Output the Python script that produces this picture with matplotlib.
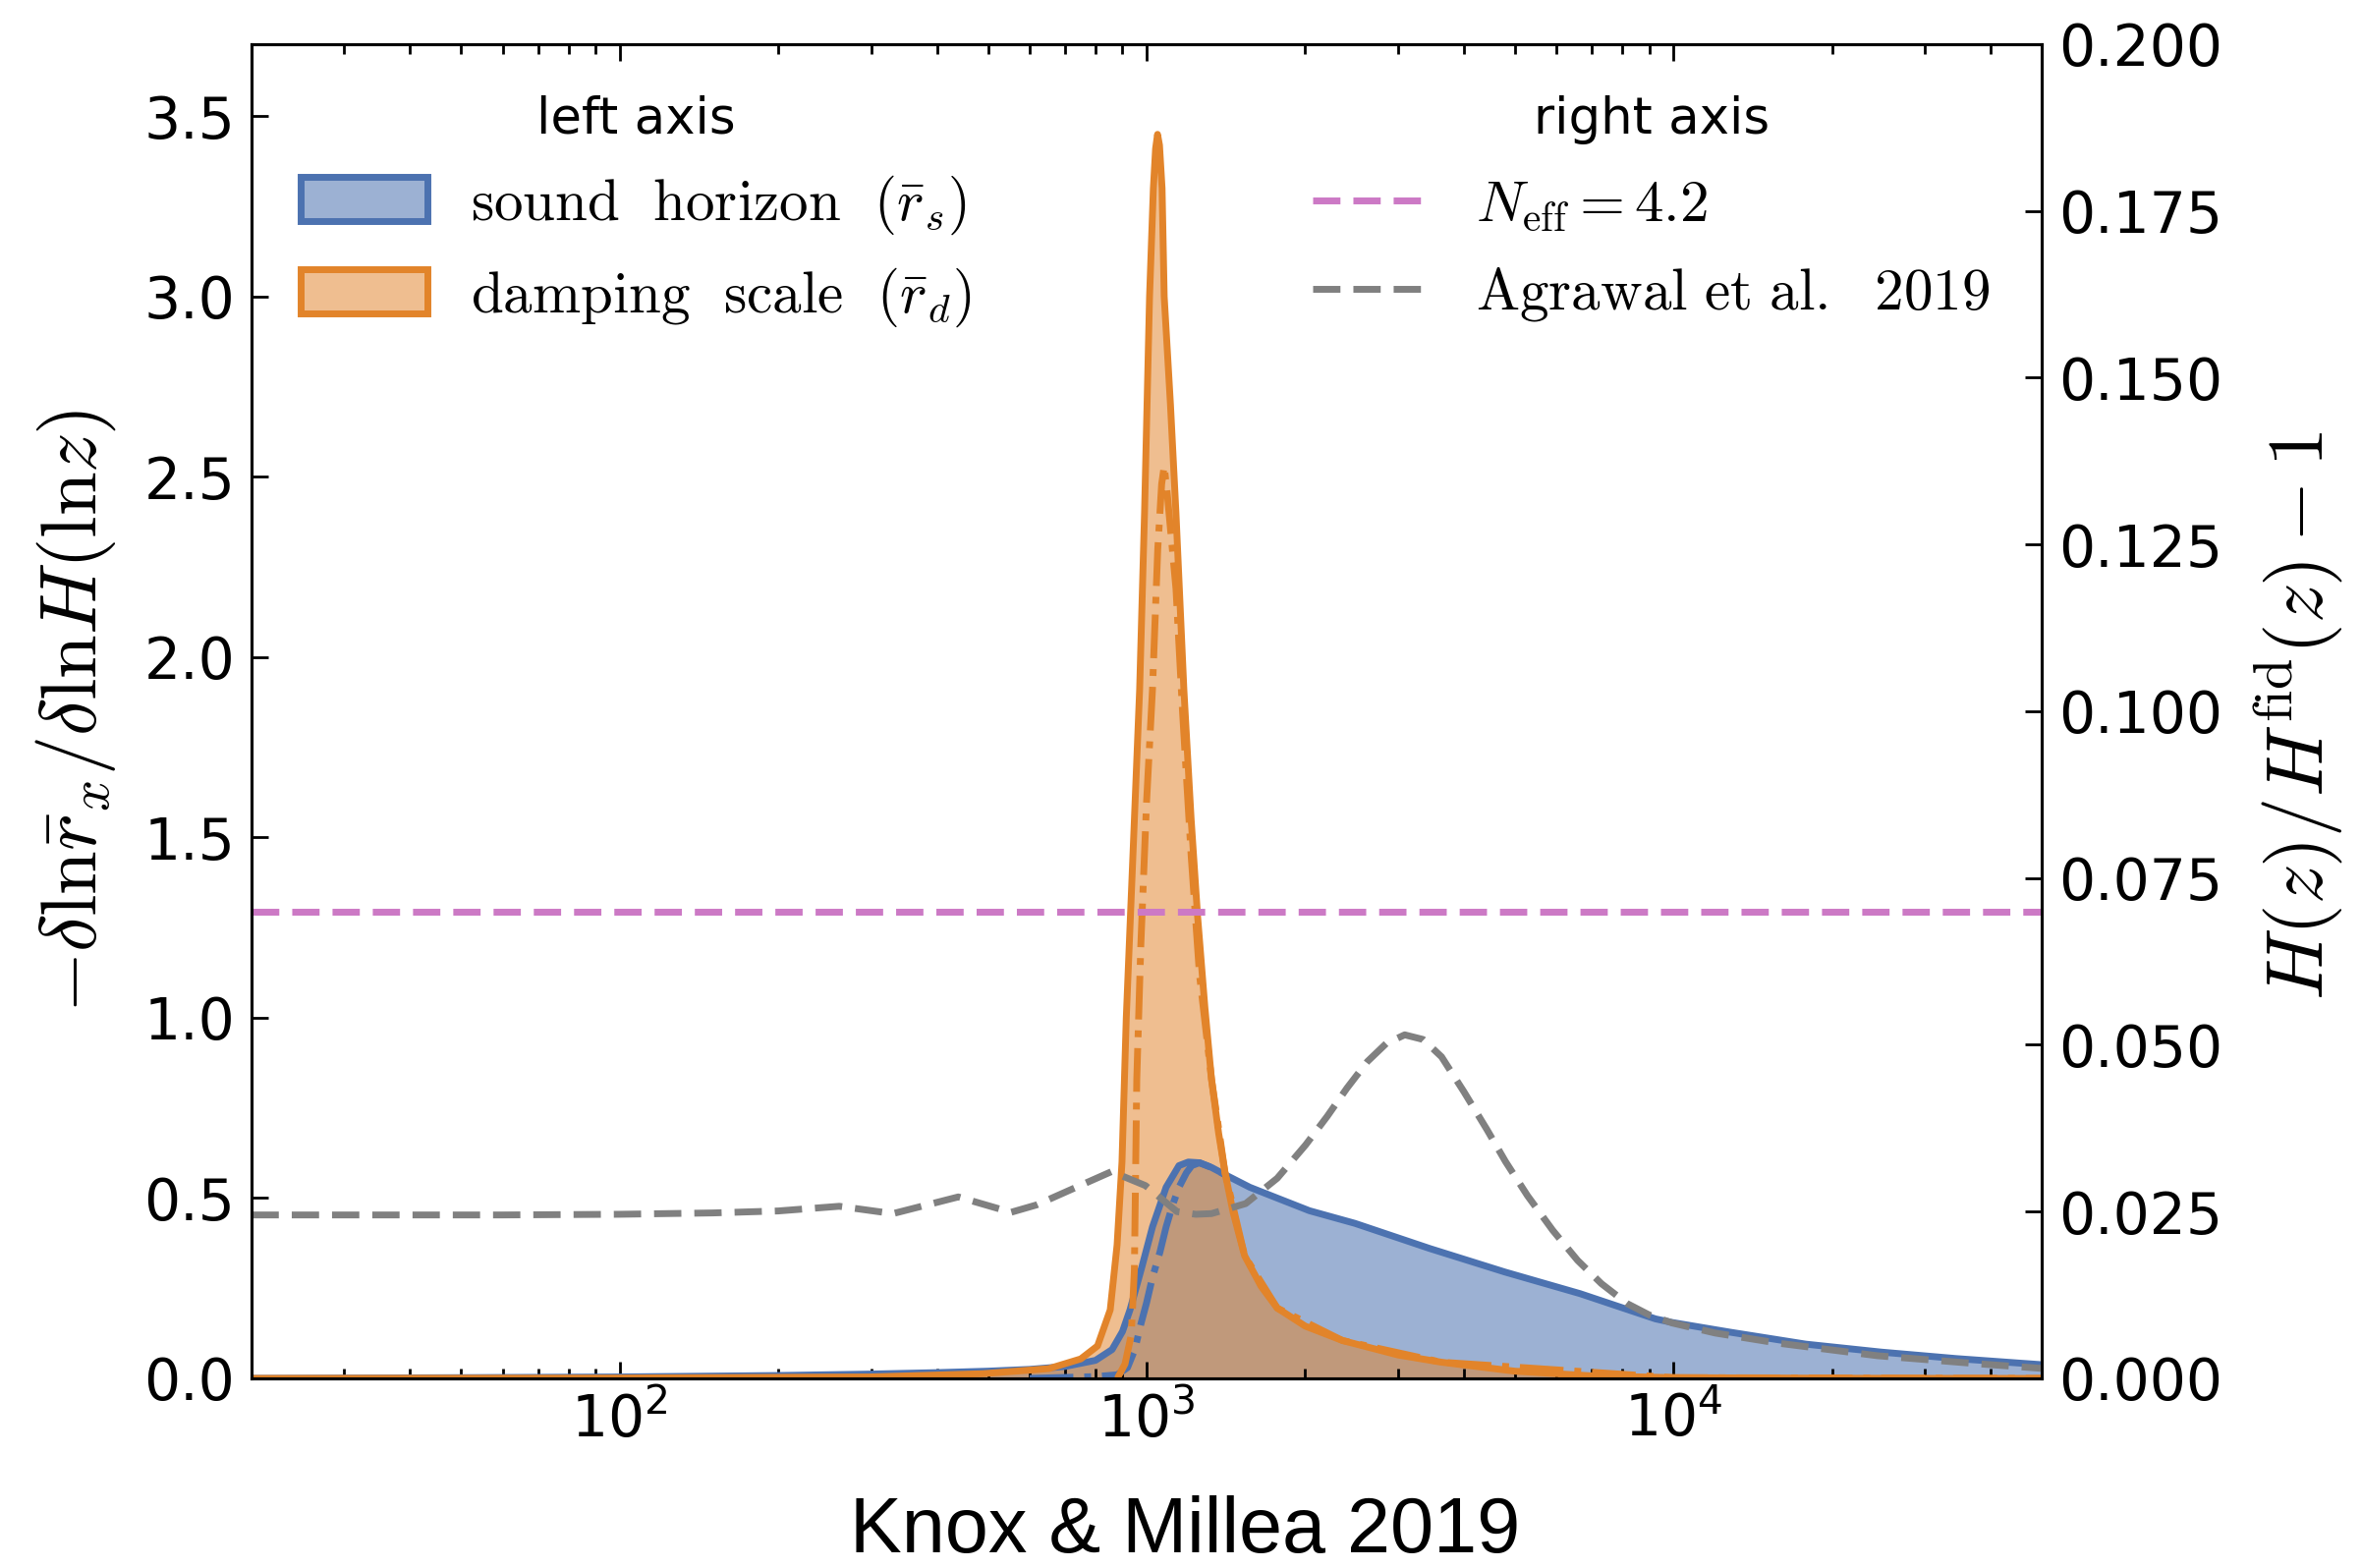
import matplotlib
matplotlib.use("Agg")
import matplotlib.pyplot as plt
from matplotlib.patches import Patch
from matplotlib.lines import Line2D
from matplotlib.ticker import MultipleLocator, LogLocator
from matplotlib.colors import to_rgba

# ---- data -------------------------------------------------------------
# sound horizon response (left axis)
z_rs = [20, 50, 100, 200, 300, 400, 500, 600, 700, 800, 860, 900, 930, 980,
        1026, 1089, 1152, 1200, 1260, 1328, 1409, 1570, 1770, 2037, 2485,
        3450, 4787, 6650, 9247, 9950, 12830, 17830, 24770, 34400, 50000]
rs = [0.0, 0.002, 0.004, 0.008, 0.012, 0.016, 0.02, 0.025, 0.033, 0.05, 0.08,
      0.13, 0.19, 0.31, 0.42, 0.53, 0.59, 0.6, 0.598, 0.585, 0.565, 0.53, 0.50,
      0.465, 0.43, 0.36, 0.295, 0.235, 0.165, 0.155, 0.128, 0.095, 0.073,
      0.055, 0.038]

z_rs_dd = [600, 800, 880, 920, 950, 975, 1000, 1026, 1060, 1089, 1120, 1152,
           1190, 1218, 1260, 1328, 1409]
rs_dd = [0.0, 0.005, 0.01, 0.03, 0.08, 0.15, 0.21, 0.28, 0.35, 0.42, 0.48,
         0.53, 0.57, 0.59, 0.598, 0.585, 0.565]

# damping scale response (left axis)
z_rd = [20, 100, 300, 489, 652, 750, 807, 853, 879, 898, 915, 945, 970, 991,
        1013, 1030, 1040, 1049, 1058, 1070, 1080, 1110, 1137, 1177, 1215, 1250,
        1290, 1328, 1370, 1409, 1460, 1535, 1650, 1770, 2000, 2354, 3000, 3623,
        5000, 7000, 10000, 20000, 50000]
rd = [0.0, 0.001, 0.004, 0.013, 0.027, 0.054, 0.09, 0.19, 0.37, 0.6, 1.0, 1.5,
      1.91, 2.4, 3.0, 3.3, 3.41, 3.45, 3.42, 3.3, 3.0, 2.7, 2.4, 1.91, 1.55,
      1.28, 1.03, 0.83, 0.68, 0.57, 0.46, 0.34, 0.255, 0.195, 0.145, 0.105,
      0.065, 0.045, 0.02, 0.007, 0.002, 0.0005, 0.0]

z_rd_dd = [880, 910, 935, 948, 958, 975, 1000, 1026, 1050, 1068, 1080, 1095,
           1137, 1170, 1215, 1260, 1328, 1409, 1535, 1770, 2354, 3623, 10000,
           50000]
rd_dd = [0.0, 0.04, 0.12, 0.3, 0.83, 1.2, 1.6, 1.91, 2.3, 2.48, 2.53, 2.45,
         2.19, 1.85, 1.45, 1.12, 0.83, 0.57, 0.34, 0.195, 0.105, 0.045, 0.002,
         0.0]

# H(z)/H_fid(z) - 1 (right axis)
neff_shift = 0.07
z_agr = [20, 60, 100, 150, 200, 261, 330, 439, 553, 618, 728, 858, 995, 1142,
         1240, 1328, 1542, 1770, 2004, 2203, 2400, 2625, 2850, 3090, 3350, 3630,
         4000, 4426, 4800, 5283, 5900, 6576, 7300, 8175, 9000, 9950, 12000,
         15740, 24380, 37760, 50000]
agr = [0.0245, 0.0245, 0.0246, 0.0248, 0.0251, 0.0258, 0.0247, 0.0272, 0.0249,
       0.0260, 0.0285, 0.0310, 0.0289, 0.0250, 0.0246, 0.0247, 0.0262, 0.0300,
       0.0350, 0.0393, 0.0435, 0.0475, 0.0502, 0.0515, 0.0508, 0.0482, 0.0430,
       0.0373, 0.0325, 0.0274, 0.0222, 0.0177, 0.0142, 0.0112, 0.0095, 0.0083,
       0.0068, 0.0053, 0.0034, 0.0022, 0.0015]

left_ticks = [0.0, 0.5, 1.0, 1.5, 2.0, 2.5, 3.0, 3.5]

# ---- style ------------------------------------------------------------
BLUE = "#4C72B0"
ORANGE = "#E2842A"
PINK = "#CC79C5"
GRAY = "#808080"
LW = 5
DASH = (0, (4.0, 1.9))

plt.rcParams["mathtext.fontset"] = "dejavusans"
plt.rcParams["axes.linewidth"] = 2.2

fig = plt.figure(figsize=(24.03, 15.96), dpi=100)
ax = fig.add_axes([0.10653, 0.12093, 0.75822, 0.85088])

ax.fill_between(z_rs, rs, color=BLUE, alpha=0.55, lw=0)
ax.plot(z_rs, rs, color=BLUE, lw=LW)
ax.plot(z_rs_dd, rs_dd, color=BLUE, lw=LW, ls="-.")
ax.fill_between(z_rd, rd, color=ORANGE, alpha=0.52, lw=0)
ax.plot(z_rd, rd, color=ORANGE, lw=LW)
ax.plot(z_rd_dd, rd_dd, color=ORANGE, lw=LW, ls="-.")

ax.set_xscale("log")
ax.set_xlim(20, 5e4)
ax.set_ylim(0, 3.7)
ax.set_yticks(left_ticks)
ax.xaxis.set_major_locator(LogLocator(base=10))
ax.xaxis.set_minor_locator(LogLocator(base=10, subs=range(2, 10)))
ax.tick_params(which="both", direction="in", top=True, right=False,
               labelsize=42, width=2)
ax.tick_params(which="major", length=12)
ax.tick_params(which="minor", length=7)
ax.tick_params(axis="y", pad=12)
ax.tick_params(axis="x", pad=10)

ax2 = ax.twinx()
ax2.axhline(neff_shift, color=PINK, ls=DASH, lw=LW)
ax2.plot(z_agr, agr, color=GRAY, ls=DASH, lw=LW)
ax2.set_ylim(0, 0.2)
ax2.yaxis.set_major_locator(MultipleLocator(0.025))
ax2.tick_params(axis="y", direction="in", length=12, width=2, labelsize=42,
                pad=12)

# ---- legends ----------------------------------------------------------
label_prop = dict(size=42.5, math_fontfamily="cm")
title_prop = dict(size=37)
h_left = [
    Patch(facecolor=to_rgba(BLUE, 0.55), edgecolor=BLUE, lw=LW),
    Patch(facecolor=to_rgba(ORANGE, 0.52), edgecolor=ORANGE, lw=LW),
]
l_left = [r"$\mathrm{sound\ \ horizon}\ \ (\bar{r}_s)$",
          r"$\mathrm{damping\ \ scale}\ \ (\bar{r}_d)$"]
leg1 = ax2.legend(h_left, l_left, title="left axis", loc="upper left",
                  bbox_to_anchor=(0.0274, 0.962), frameon=False,
                  prop=label_prop, title_fontproperties=title_prop,
                  handlelength=2.18, handleheight=0.8, handletextpad=0.75,
                  labelspacing=0.5, borderpad=0, borderaxespad=0)
ax2.add_artist(leg1)

h_right = [Line2D([], [], color=PINK, ls=DASH, lw=LW),
           Line2D([], [], color=GRAY, ls=DASH, lw=LW)]
l_right = [r"$N_{\rm eff} = 4.2$", r"$\mathrm{Agrawal\ et\ al.\ \ 2019}$"]
ax2.legend(h_right, l_right, title="right axis", loc="upper left",
           bbox_to_anchor=(0.5928, 0.962), frameon=False, prop=label_prop,
           title_fontproperties=title_prop, handlelength=2.06,
           handletextpad=0.75, labelspacing=0.56, borderpad=0,
           borderaxespad=0)

# ---- axis labels ------------------------------------------------------
W, H = 2403, 1596
fig.text(77 / W, 1 - 724 / H,
         r"$-\delta\mathrm{ln}\bar{r}_x/\delta\mathrm{ln}H(\mathrm{ln}z)$",
         rotation=90, ha="center", va="center", fontsize=58,
         math_fontfamily="cm")
fig.text(2340 / W, 1 - 728 / H, r"$H(z)/H^{\rm fid}(z)-1$",
         rotation=90, ha="center", va="center", fontsize=58,
         math_fontfamily="cm")
fig.text(1206 / W, 1 - 1580 / H, "Knox & Millea 2019",
         family="Liberation Sans", fontsize=57, ha="center", va="baseline")

fig.savefig("out.png", dpi=100)
